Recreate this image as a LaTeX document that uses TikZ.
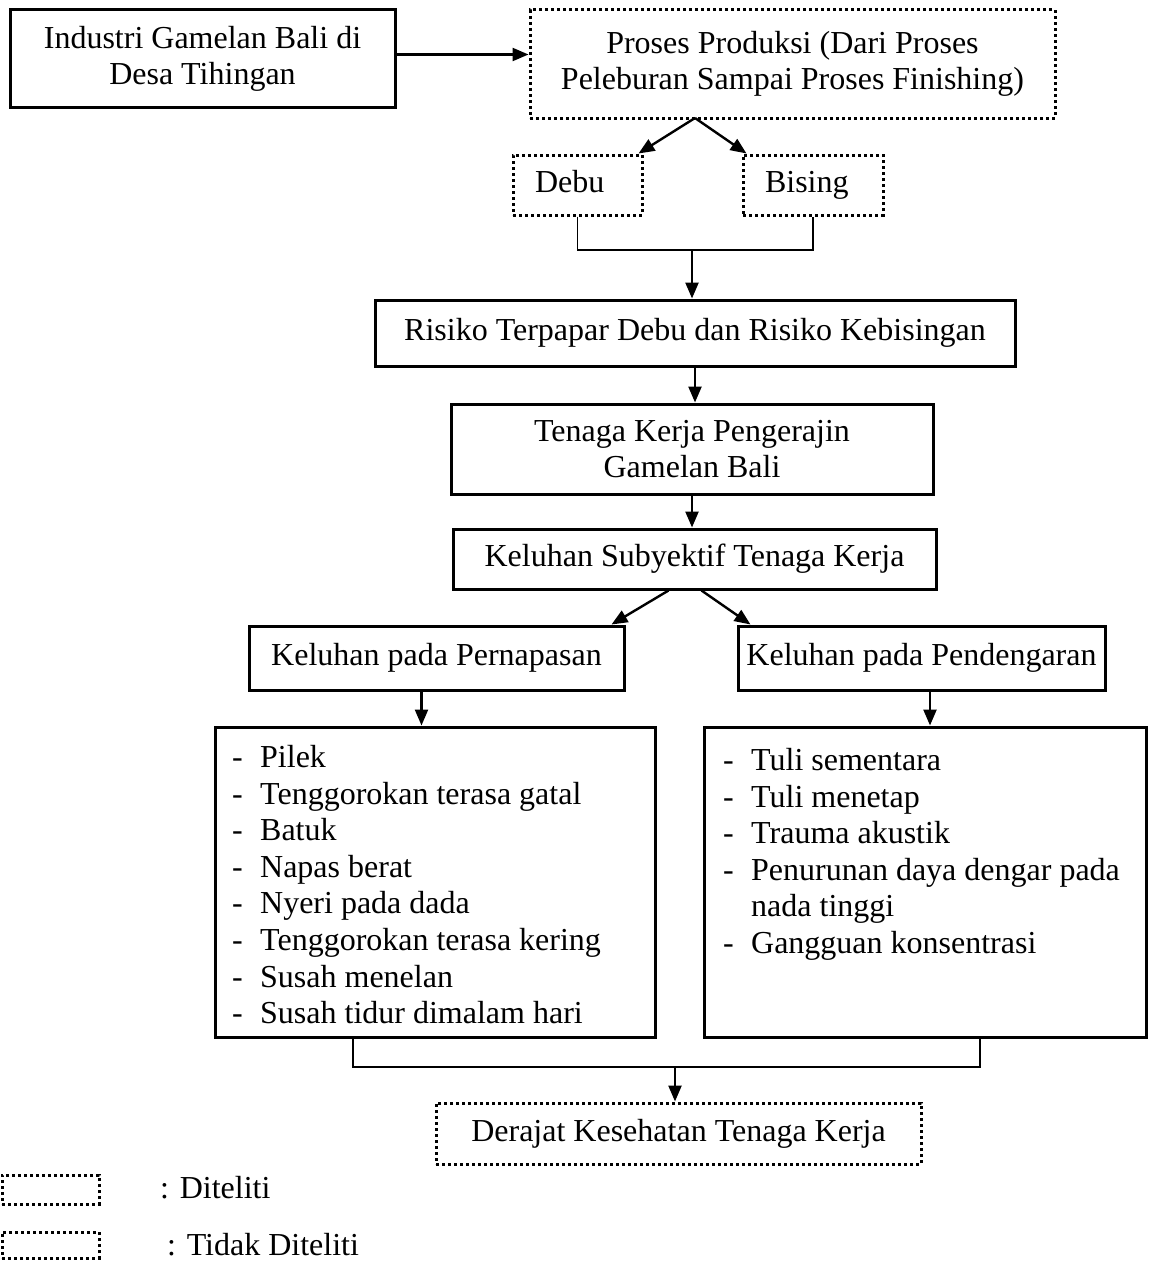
\documentclass[tikz,border=0pt]{standalone}
\usepackage{fontspec}
\setmainfont{Liberation Serif}
\usepackage{tikz}
\usetikzlibrary{arrows.meta,positioning}
\tikzset{
  txt/.style={font=\fontsize{32}{36}\selectfont, align=center, inner sep=0pt},
  solidbox/.style={txt, draw, line width=3pt},
  dotbox/.style={txt, draw, line width=3pt, dash pattern=on 3pt off 3pt},
  sidebox/.style={dotbox, align=left, inner xsep=22pt, text height=22pt, text depth=7pt},
  arr/.style={line width=2.4pt, -{Triangle[length=16pt,width=13pt]}},
  brk/.style={line width=1.3pt}
}
\newcommand{\itm}[1]{\makebox[28pt][l]{-}#1}
\newcommand{\cnt}[1]{\makebox[28pt][l]{}#1}

\begin{document}
\begin{tikzpicture}[x=1pt, y=-1pt]
    \useasboundingbox (0,0) rectangle (1148,1263);

    \node[solidbox, minimum width=385pt, minimum height=97pt] (indus) at (202.5,58.5)
      {Industri Gamelan Bali di\\Desa Tihingan};
    \node[dotbox, minimum width=525pt, minimum height=108pt] (proses) at (792.5,64)
      {Proses Produksi (Dari Proses\\Peleburan Sampai Proses Finishing)};
    \node[sidebox, text width=85pt, minimum height=60pt] (debu) at (577.5,185) {Debu};
    \node[sidebox, text width=96pt, minimum height=60pt] (bising) at (813,185) {Bising};
    \node[solidbox, minimum width=640pt, minimum height=66pt] (risiko) at (695,333)
      {Risiko Terpapar Debu dan Risiko Kebisingan};
    \node[solidbox, minimum width=482pt, minimum height=90pt] (tenaga) at (692,449)
      {Tenaga Kerja Pengerajin\\Gamelan Bali};
    \node[solidbox, minimum width=483pt, minimum height=60pt] (keluhan) at (694.5,559)
      {Keluhan Subyektif Tenaga Kerja};
    \node[solidbox, minimum width=375pt, minimum height=64pt] (napas) at (436.5,658)
      {Keluhan pada Pernapasan};
    \node[solidbox, minimum width=367pt, minimum height=64pt] (dengar) at (921.5,658)
      {Keluhan pada Pendengaran};
    \node[solidbox, minimum width=440pt, minimum height=310pt] (listL) at (435,882) {};
    \node[solidbox, minimum width=442pt, minimum height=310pt] (listR) at (925,882) {};
    \node[txt, align=left, anchor=north west, font=\fontsize{32}{36.6}\selectfont] (gejalaL) at (232,745)
      {\itm{Pilek}\\\itm{Tenggorokan terasa gatal}\\\itm{Batuk}\\\itm{Napas berat}\\
       \itm{Nyeri pada dada}\\\itm{Tenggorokan terasa kering}\\\itm{Susah menelan}\\
       \itm{Susah tidur dimalam hari}};
    \node[txt, align=left, anchor=north west, font=\fontsize{32}{36.6}\selectfont] (gejalaR) at (723,748)
      {\itm{Tuli sementara}\\\itm{Tuli menetap}\\\itm{Trauma akustik}\\
       \itm{Penurunan daya dengar pada}\\\cnt{nada tinggi}\\\itm{Gangguan konsentrasi}};
    \node[dotbox, minimum width=485pt, minimum height=61pt] (derajat) at (678.5,1133.5)
      {Derajat Kesehatan Tenaga Kerja};

    \node[dotbox, minimum width=97pt, minimum height=29pt] (lgA) at (50.5,1189.5) {};
    \node[dotbox, minimum width=97pt, minimum height=26pt] (lgB) at (50.5,1245) {};
    \node[txt, anchor=west] (lgAtxt) at (160,1188) {: Diteliti};
    \node[txt, anchor=west] (lgBtxt) at (167,1245) {: Tidak Diteliti};

    \coordinate (pfork) at (695,118);
    \coordinate (jn1) at (692,250);
    \coordinate (jn2) at (675,1067);

    \draw[arr] ([yshift=4pt]indus.east) -- ([yshift=4pt]indus.east -| proses.west);
    \draw[arr] (pfork) -- ([xshift=-5pt]debu.north east);
    \draw[arr] (pfork) -- ([xshift=5pt]bising.north west);
    \draw[brk] (debu.south) -- (debu.south |- jn1) -- (bising.south |- jn1) -- (bising.south);
    \draw[arr] (jn1) -- (jn1 |- risiko.north);
    \draw[arr] (risiko.south) -- (risiko.south |- tenaga.north);
    \draw[arr] (tenaga.south) -- (tenaga.south |- keluhan.north);
    \draw[arr] ([xshift=-26pt]keluhan.south) -- ([xshift=-14pt]napas.north east);
    \draw[arr] ([xshift=7pt]keluhan.south) -- ([xshift=14pt]dengar.north west);
    \draw[arr] ([xshift=-15pt]napas.south) -- ([xshift=-15pt]napas.south |- listL.north);
    \draw[arr] ([xshift=8.5pt]dengar.south) -- ([xshift=8.5pt]dengar.south |- listR.north);
    \draw[brk] ([xshift=-82pt]listL.south) -- ([xshift=-82pt]listL.south |- jn2)
      -- ([xshift=55pt]listR.south |- jn2) -- ([xshift=55pt]listR.south);
    \draw[arr] (jn2) -- (jn2 |- derajat.north);
\end{tikzpicture}
\end{document}
